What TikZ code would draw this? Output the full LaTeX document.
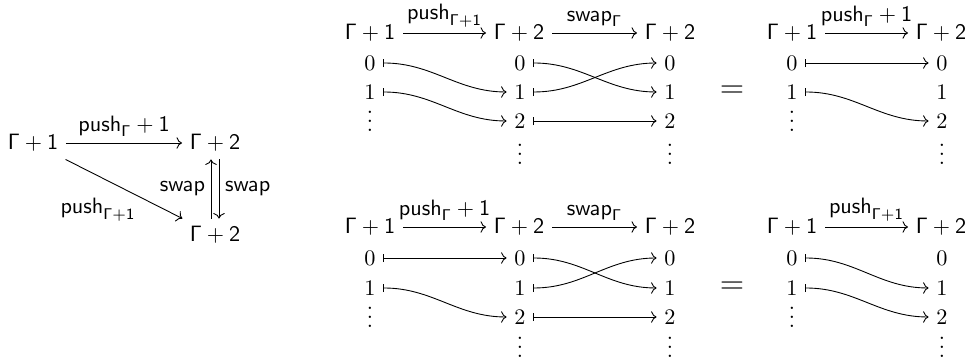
\documentclass[tikz,border=0pt]{standalone}
\usetikzlibrary{arrows.meta}
\newcommand{\vdd}{\vbox{\baselineskip4pt\lineskiplimit0pt\hbox{.}\hbox{.}\hbox{.}}}
\newcommand{\gpo}{$\mathsf{\Gamma}+\mathsf{1}$}
\newcommand{\gpt}{$\mathsf{\Gamma}+\mathsf{2}$}
\newcommand{\pushG}{$\mathsf{push}_{\mathsf{\Gamma}}+\mathsf{1}$}
\newcommand{\pushGo}{$\mathsf{push}_{\mathsf{\Gamma}+\mathsf{1}}$}
\newcommand{\swapG}{$\mathsf{swap}_{\mathsf{\Gamma}}$}
\newcommand{\swp}{$\mathsf{swap}$}
% middle panel nodes: prefix, header y, row y's
\newcommand{\midnodes}[6]{%
  \node[ob] (#1A1) at (370,#2) {\gpo};
  \node[ob] (#1A2) at (519,#2) {\gpt};
  \node[ob] (#1A3) at (670,#2) {\gpt};
  \node[dig] (#1a0) at (370,#3) {$0$};
  \node[dig] (#1a1) at (370,#4) {$1$};
  \node[dig] (#1a2) at (370,#5) {\vdd};
  \node[dig] (#1b0) at (520,#3) {$0$};
  \node[dig] (#1b1) at (520,#4) {$1$};
  \node[dig] (#1b2) at (520,#5) {$2$};
  \node[dig] (#1b3) at (520,#6) {\vdd};
  \node[dig] (#1c0) at (670,#3) {$0$};
  \node[dig] (#1c1) at (670,#4) {$1$};
  \node[dig] (#1c2) at (670,#5) {$2$};
  \node[dig] (#1c3) at (670,#6) {\vdd};
}
\newcommand{\rightnodes}[6]{%
  \node[ob] (#1R1) at (792,#2) {\gpo};
  \node[ob] (#1R2) at (941,#2) {\gpt};
  \node[eqs] (#1eq) at (732,#4) {$=$};
  \node[dig] (#1d0) at (792,#3) {$0$};
  \node[dig] (#1d1) at (792,#4) {$1$};
  \node[dig] (#1d2) at (792,#5) {\vdd};
  \node[dig] (#1e0) at (942,#3) {$0$};
  \node[dig] (#1e1) at (942,#4) {$1$};
  \node[dig] (#1e2) at (942,#5) {$2$};
  \node[dig] (#1e3) at (942,#6) {\vdd};
}
\begin{document}
\begin{tikzpicture}[x=0.45pt,y=-0.45pt,
  ob/.style={inner sep=3.33pt},
  dig/.style={inner xsep=3.33pt, inner ysep=1pt},
  eqs/.style={inner sep=1pt, font=\Large},
  lab/.style={inner sep=2.5pt},
  mor/.style={-{Computer Modern Rightarrow}, line width=0.4pt},
  mapto/.style={{Bar[width=3.8pt]}-{Computer Modern Rightarrow}, line width=0.4pt}]
\useasboundingbox (0,0) rectangle (973,360);

% ---------- left triangle ----------
\node[ob] (L1) at (33,143) {\gpo};
\node[ob] (L2) at (215,143) {\gpt};
\node[ob] (L3) at (215,235) {\gpt};
\draw[mor] (L1) -- node[lab,above] {\pushG} (L2);
\draw[mor] (L1) -- node[lab,xshift=-11.7pt,yshift=-9.4pt] {\pushGo} (L3);
\draw[mor] ([xshift=-1.8pt]L3.north) -- node[lab,left] {\swp} ([xshift=-1.8pt]L2.south);
\draw[mor] ([xshift=1.8pt]L2.south) -- node[lab,right] {\swp} ([xshift=1.8pt]L3.north);

% ---------- top row ----------
\midnodes{t}{33}{63}{92}{121}{154}
\rightnodes{t}{33}{63}{92}{121}{154}
\draw[mor] (tA1) -- node[lab,above] {\pushGo} (tA2);
\draw[mor] (tA2) -- node[lab,above] {\swapG} (tA3);
\draw[mapto] (ta0) to[out=0,in=180] (tb1);
\draw[mapto] (ta1) to[out=0,in=180] (tb2);
\draw[mapto] (tb0) to[out=0,in=180] (tc1);
\draw[mapto] (tb1) to[out=0,in=180] (tc0);
\draw[mapto] (tb2) -- (tc2);
\draw[mor] (tR1) -- node[lab,above] {\pushG} (tR2);
\draw[mapto] (td0) -- (te0);
\draw[mapto] (td1) to[out=0,in=180] (te2);

% ---------- bottom row ----------
\midnodes{u}{227}{258}{288}{317}{347}
\rightnodes{u}{227}{258}{288}{317}{347}
\draw[mor] (uA1) -- node[lab,above] {\pushG} (uA2);
\draw[mor] (uA2) -- node[lab,above] {\swapG} (uA3);
\draw[mapto] (ua0) -- (ub0);
\draw[mapto] (ua1) to[out=0,in=180] (ub2);
\draw[mapto] (ub0) to[out=0,in=180] (uc1);
\draw[mapto] (ub1) to[out=0,in=180] (uc0);
\draw[mapto] (ub2) -- (uc2);
\draw[mor] (uR1) -- node[lab,above] {\pushGo} (uR2);
\draw[mapto] (ud0) to[out=0,in=180] (ue1);
\draw[mapto] (ud1) to[out=0,in=180] (ue2);
\end{tikzpicture}
\end{document}
